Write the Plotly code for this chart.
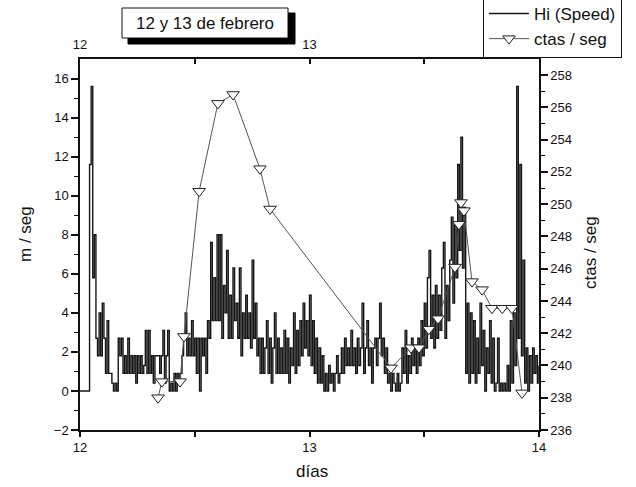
import numpy as np
import plotly.graph_objects as go

# Wind speed (m/s), 10-minute samples from day 12 00:00 to day 14 00:00
speed = [
    0, 0, 0, 0, 0, 0, 11.6, 15.6, 5.8, 8.0, 2.7, 1.8,
    4.0, 1.8, 4.5, 2.7, 0.9, 3.6, 0.9, 0.9, 0.4, 0, 0.4, 0,
    2.7, 1.8, 2.7, 0.9, 1.8, 0.9, 2.7, 0.9, 1.8, 0.9, 1.8, 0.4,
    1.8, 0.9, 1.8, 0.9, 1.3, 3.1, 0.9, 3.1, 0.9, 1.8, 0.4, 1.8,
    1.8, 1.8, 0.9, 1.8, 3.1, 0.4, 1.8, 3.1, 0, 0.4, 0, 0.9,
    0, 0.9, 0.4, 0.9, 1.8, 2.7, 4.0, 1.8, 2.7, 1.8, 3.6, 1.8,
    2.7, 0.9, 2.7, 0, 2.7, 1.8, 2.7, 0.9, 3.6, 2.7, 7.6, 3.6,
    5.8, 3.6, 8.0, 3.6, 8.0, 2.7, 5.4, 4.0, 7.2, 2.7, 4.9, 2.7,
    6.3, 3.6, 4.5, 2.7, 6.3, 1.8, 4.0, 2.7, 4.9, 2.7, 4.0, 2.2,
    6.7, 2.7, 4.5, 1.8, 2.7, 0.9, 2.7, 0.9, 2.2, 3.6, 0.9, 2.7,
    0.4, 2.2, 4.0, 0.9, 2.7, 0.9, 2.2, 0.9, 3.1, 0.9, 2.7, 0.4,
    2.2, 1.3, 4.0, 0.9, 3.1, 1.3, 3.6, 1.8, 4.5, 2.2, 3.6, 1.8,
    4.9, 1.3, 3.6, 0.9, 2.7, 0.4, 2.2, 0.4, 1.8, 0, 0.9, 0,
    1.3, 0.4, 0.9, 0, 0.9, 1.8, 0.4, 0.9, 2.2, 0.9, 2.7, 1.3,
    2.2, 1.3, 3.1, 1.3, 2.2, 0.9, 2.7, 1.3, 2.2, 4.5, 0.9, 2.2,
    3.6, 1.3, 2.2, 0.4, 2.2, 2.7, 1.3, 2.7, 4.5, 1.8, 2.7, 0.9,
    2.2, 0.4, 0.9, 0, 0.9, 0.4, 0, 0.9, 0, 0.4, 2.2, 0.9,
    3.1, 0.4, 1.8, 0.9, 2.7, 1.3, 2.2, 0.9, 2.7, 1.3, 3.6, 1.8,
    4.5, 2.2, 5.8, 7.2, 2.7, 4.9, 2.2, 5.4, 2.7, 4.9, 3.1, 6.3,
    7.6, 2.7, 5.4, 3.6, 6.7, 8.9, 4.5, 8.5, 5.8, 11.6, 7.2, 13.0,
    6.3, 9.4, 0.9, 4.5, 0.4, 4.0, 0.9, 3.6, 0.4, 2.7, 0.9, 4.5,
    1.3, 3.1, 0, 2.2, 0.9, 3.6, 0.4, 2.7, 0, 0.4, 2.7, 0,
    0.4, 0, 0.4, 0, 1.3, 0, 3.6, 0.4, 4.0, 1.3, 15.6, 2.7,
    11.6, 1.8, 6.7, 0.4, 2.2, 0, 1.8, 0.4, 2.2, 0.9, 1.8, 0.4,
    1.3,
]
speed_days = 12 + np.arange(len(speed)) / 144.0

# Count rate (counts per second)
ctas_days = [12.34, 12.357, 12.436, 12.453, 12.519, 12.601, 12.667, 12.784,
             12.828, 13.355, 13.442, 13.477, 13.52, 13.56, 13.634, 13.651,
             13.66, 13.673, 13.708, 13.752, 13.795, 13.84, 13.882, 13.926]
ctas = [238.0, 239.0, 239.0, 241.8, 250.8, 256.25, 256.8, 252.2,
        249.7, 239.85, 241.1, 241.1, 242.25, 242.9, 246.1, 248.75,
        250.1, 249.6, 245.2, 244.7, 243.55, 243.55, 243.55, 238.3]

x_ticks = [12, 12.5, 13, 13.5, 14]
x_ticktext = ["12", "", "13", "", "14"]
top_ticktext = ["12", "", "13", "", ""]

FONT = "Liberation Sans, Arial, Helvetica, sans-serif"
INK = "#111111"

# plot-area geometry in pixels, used to place the paper-anchored decorations
L, R, T, B = 80, 539, 59, 430
PW, PH = R - L, B - T


def px(x):
    return (x - L) / PW


def py(y):
    return (B - y) / PH


fig = go.Figure()
fig.add_trace(go.Scatter(
    x=speed_days, y=speed, mode="lines", name="Hi (Speed)",
    line=dict(color="#161616", width=1.4, shape="hv"), xaxis="x", yaxis="y",
))
fig.add_trace(go.Scatter(
    x=ctas_days, y=ctas, mode="lines+markers", name="ctas / seg",
    line=dict(color="#555555", width=1),
    marker=dict(symbol="triangle-down", size=11, color="white",
                line=dict(color="#222222", width=1)),
    xaxis="x", yaxis="y2",
))
# carrier for the top day axis
fig.add_trace(go.Scatter(x=[12, 14], y=[None, None], xaxis="x2", yaxis="y",
                         showlegend=False, hoverinfo="skip"))

axis_common = dict(showgrid=False, zeroline=False, showline=True,
                   linecolor=INK, linewidth=1.5, tickcolor=INK,
                   automargin=False,
                   tickfont=dict(family=FONT, size=13, color=INK))

fig.update_layout(
    width=636, height=487,
    margin=dict(l=L, r=636 - R, t=T, b=487 - B, autoexpand=False),
    paper_bgcolor="white", plot_bgcolor="white",
    font=dict(family=FONT, color=INK),
    showlegend=True,
    legend=dict(x=px(483), y=py(-5), xanchor="left", yanchor="top",
                bgcolor="white", bordercolor=INK, borderwidth=1,
                font=dict(family=FONT, size=17, color=INK),
                tracegroupgap=0, itemwidth=40),
    xaxis=dict(range=[12, 14], tickvals=x_ticks, ticktext=x_ticktext,
               ticks="outside", ticklen=5, tickwidth=1.5, **axis_common),
    xaxis2=dict(range=[12, 14], overlaying="x", side="top",
                tickvals=x_ticks, ticktext=top_ticktext,
                ticks="inside", ticklen=5, tickwidth=1.5,
                ticklabelstandoff=3, **axis_common),
    yaxis=dict(range=[-2, 17], tickvals=list(range(-2, 17, 2)),
               ticks="outside", ticklen=7, tickwidth=1.5,
               minor=dict(tickvals=list(range(-1, 17, 2)), ticks="outside",
                          ticklen=4, tickcolor=INK, tickwidth=1),
               **axis_common),
    yaxis2=dict(range=[236, 259], overlaying="y", side="right",
                tickvals=list(range(236, 259, 2)),
                ticks="outside", ticklen=7, tickwidth=1.5,
                minor=dict(tickvals=list(range(237, 259, 2)), ticks="outside",
                           ticklen=4, tickcolor=INK, tickwidth=1),
                **axis_common),
)

# Title box with drop shadow
fig.add_shape(type="rect", xref="paper", yref="paper",
              x0=px(128), x1=px(295), y0=py(44), y1=py(13),
              fillcolor="black", line=dict(color="black", width=1))
fig.add_shape(type="rect", xref="paper", yref="paper",
              x0=px(122), x1=px(288), y0=py(38), y1=py(8),
              fillcolor="white", line=dict(color=INK, width=1))
fig.add_annotation(text="12 y 13 de febrero", xref="paper", yref="paper",
                   x=px(205), y=py(23), xanchor="center", yanchor="middle",
                   showarrow=False, font=dict(family=FONT, size=17, color=INK))

# Axis titles
fig.add_annotation(text="m / seg", xref="paper", yref="paper",
                   x=px(25), y=py(234), textangle=-90,
                   xanchor="center", yanchor="middle",
                   showarrow=False, font=dict(family=FONT, size=17, color=INK))
fig.add_annotation(text="ctas / seg", xref="paper", yref="paper",
                   x=px(590), y=py(253), textangle=-90,
                   xanchor="center", yanchor="middle",
                   showarrow=False, font=dict(family=FONT, size=17, color=INK))
fig.add_annotation(text="días", xref="paper", yref="paper",
                   x=px(312), y=py(471), xanchor="center", yanchor="middle",
                   showarrow=False, font=dict(family=FONT, size=17, color=INK))

fig.write_html("out.html")
